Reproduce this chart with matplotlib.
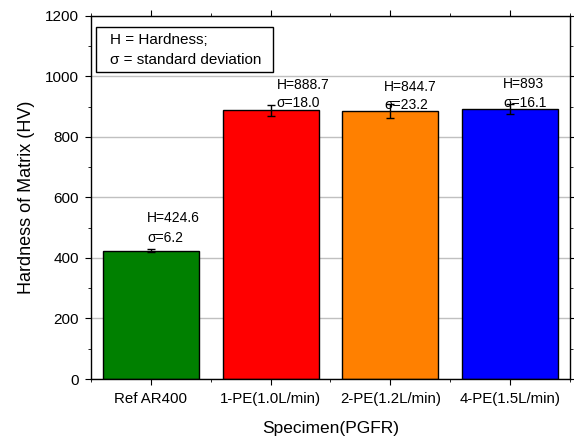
import matplotlib
matplotlib.use("Agg")
import matplotlib.pyplot as plt
from matplotlib.patches import Rectangle
from matplotlib.ticker import MultipleLocator

matplotlib.rcParams['font.family'] = ['Liberation Sans', 'DejaVu Sans']

specimens = ["Ref AR400", "1-PE(1.0L/min)", "2-PE(1.2L/min)", "4-PE(1.5L/min)"]
hardness = [424.6, 888.7, 884.7, 893.0]
std_dev = [6.2, 18.0, 23.2, 16.1]
h_labels = ["H=424.6", "H=888.7", "H=844.7", "H=893"]
s_labels = ["σ=6.2", "σ=18.0", "σ=23.2", "σ=16.1"]
colors = ["#008000", "#ff0000", "#ff8000", "#0000ff"]

# where the hand placed labels sit (x offset from bar centre, y of each line)
lab_dx = [-0.03, 0.05, -0.05, -0.06]
h_lab_y = [532, 972, 965, 975]
s_lab_y = [466, 912, 906, 912]

fig = plt.figure(figsize=(5.74, 4.38), dpi=100)
ax = fig.add_axes([0.1585, 0.1347, 0.8345, 0.8288])

x = list(range(len(specimens)))
ax.bar(x, hardness, width=0.8, color=colors, edgecolor="black", linewidth=1.0, zorder=2)
ax.errorbar(x, hardness, yerr=std_dev, fmt="none", ecolor="black", elinewidth=1.0,
            capsize=3, capthick=1.0, zorder=3)

for i in x:
    ax.text(i + lab_dx[i], h_lab_y[i], h_labels[i], ha="left", va="center", fontsize=10, zorder=4)
    ax.text(i + lab_dx[i], s_lab_y[i], s_labels[i], ha="left", va="center", fontsize=10, zorder=4)

ax.set_xlim(-0.5, 3.5)
ax.set_ylim(0, 1200)
ax.set_xticks(x)
ax.set_xticklabels(specimens, fontsize=10.8)
ax.xaxis.set_minor_locator(MultipleLocator(0.5))
ax.yaxis.set_major_locator(MultipleLocator(200))
ax.yaxis.set_minor_locator(MultipleLocator(100))
ax.tick_params(axis="y", labelsize=11, pad=4)
ax.tick_params(axis="x", pad=5)
ax.tick_params(which="both", direction="out", top=True, right=True)
ax.tick_params(which="major", length=4.5)
ax.tick_params(which="minor", length=2.5)
ax.grid(axis="y", which="major", color="#c0c0c0", linewidth=1.0, zorder=0)
ax.set_axisbelow(True)

for sp in ax.spines.values():
    sp.set_linewidth(1.0)

ax.set_xlabel("Specimen(PGFR)", fontsize=12.5, labelpad=11)
ax.set_ylabel("Hardness of Matrix (HV)", fontsize=13, labelpad=7)

# note box in the upper left corner
ax.add_patch(Rectangle((0.0104, 0.8457), 0.3696, 0.124, transform=ax.transAxes,
                       facecolor="white", edgecolor="black", linewidth=1.0, zorder=5))
ax.text(0.0395, 0.934, "H = Hardness;", transform=ax.transAxes, ha="left", va="center",
        fontsize=11, zorder=6)
ax.text(0.0395, 0.879, "σ = standard deviation", transform=ax.transAxes, ha="left",
        va="center", fontsize=11, zorder=6)

plt.savefig("out.png", dpi=100)
